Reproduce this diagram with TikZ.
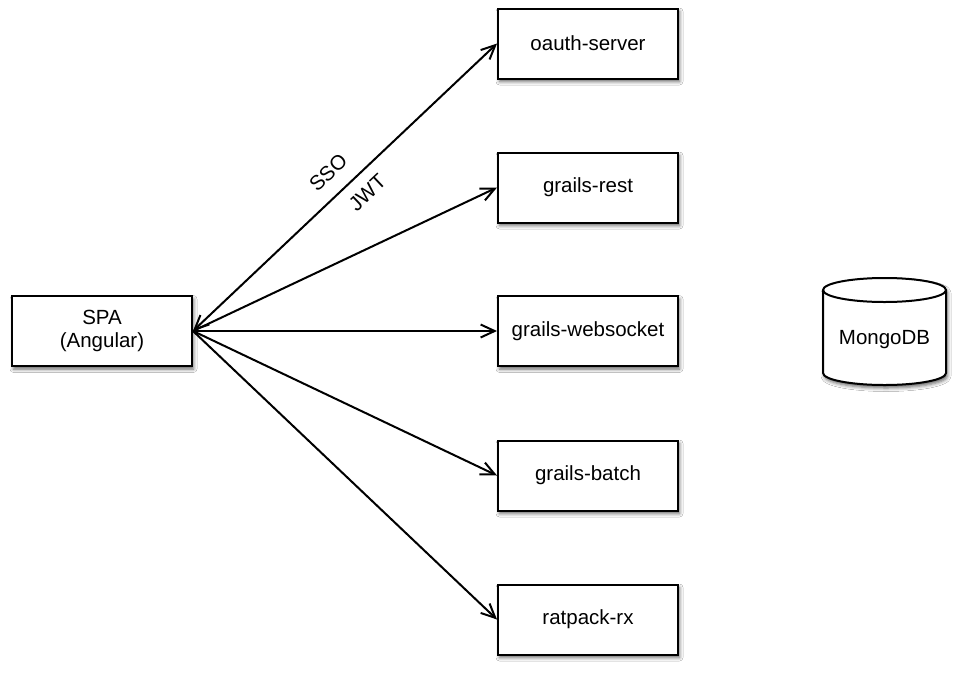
\documentclass[tikz,border=0pt]{standalone}
\usepackage{fontspec}
\setmainfont{Liberation Sans}
\usetikzlibrary{arrows.meta,shadows.blur}
\tikzset{
  softshadow/.style={blur shadow={shadow xshift=1.5pt, shadow yshift=-3pt, shadow blur radius=3.5pt, shadow opacity=60}},
  svc/.style={draw=black, line width=2pt, fill=white, rectangle,
    minimum width=180pt, minimum height=70pt, inner sep=0pt,
    font=\fontsize{20.5}{23}\selectfont, align=center, softshadow},
  tip/.tip={Straight Barb[length=14pt,width=13pt]},
  conn/.style={line width=2pt, -tip},
  biconn/.style={line width=2pt, tip-tip},
  lbl/.style={font=\fontsize{20.5}{23}\selectfont, inner sep=0pt, sloped},
  dbshape/.style={draw=black, line width=2pt, fill=white, softshadow}
}
\begin{document}
\begin{tikzpicture}[x=1pt,y=-1pt]
\useasboundingbox[fill=white] (0,0) rectangle (960,672);

\node[svc] (spa) at (102,331) {SPA\\(Angular)};
\node[svc] (oauth) at (588,43.5) {oauth-server};
\node[svc] (rest) at (588,187.5) {grails-rest};
\node[svc] (ws) at (588,331) {grails-websocket};
\node[svc] (batch) at (588,475.5) {grails-batch};
\node[svc] (rx) at (588,619.5) {ratpack-rx};

\draw[biconn] (spa.east) -- (oauth.west)
  node[lbl, pos=0.495, above=14pt] (sso) {SSO}
  node[lbl, pos=0.53, below=11pt] (jwt) {JWT};
\draw[conn] (spa.east) -- (rest.west);
\draw[conn] (spa.east) -- (ws.west);
\draw[conn] (spa.east) -- (batch.west);
\draw[conn] (spa.east) -- (rx.west);

% MongoDB cylinder
\path[dbshape] (823,290) -- (823,373) arc[start angle=180, end angle=360, x radius=61.5pt, y radius=12pt]
  -- (946,290) arc[start angle=0, end angle=180, x radius=61.5pt, y radius=12pt] -- cycle;
\draw[line width=2pt] (823,290) arc[start angle=180, end angle=360, x radius=61.5pt, y radius=12pt];
\node[font=\fontsize{20.5}{23}\selectfont, inner sep=0pt] (mongo) at (884.5,340) {MongoDB};
\end{tikzpicture}
\end{document}
